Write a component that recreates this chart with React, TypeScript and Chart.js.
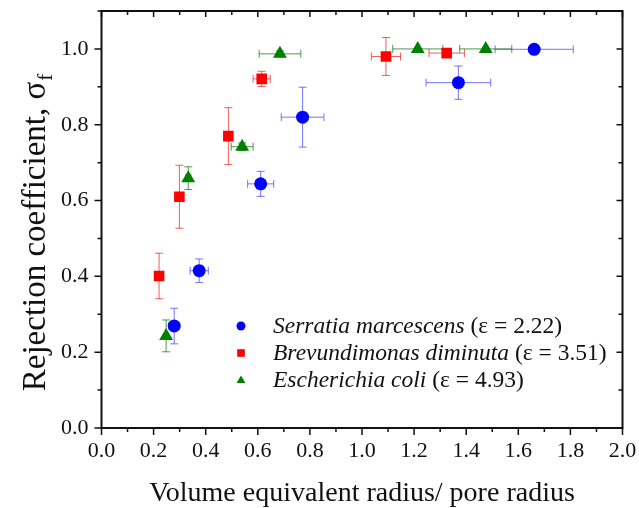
import React, { useEffect, useRef } from "react";
import { Chart, registerables } from "chart.js";

Chart.register(...registerables);

// ---------- data ----------
const seriesNames = ["Serratia marcescens", "Brevundimonas diminuta", "Escherichia coli"];
const seriesEps = ["(ε = 2.22)", "(ε = 3.51)", "(ε = 4.93)"];

const serratiaX = [0.279, 0.375, 0.611, 0.772, 1.37, 1.661];
const serratiaY = [0.269, 0.415, 0.644, 0.82, 0.911, 0.999];
const serratiaXErr = [0.021, 0.035, 0.05, 0.082, 0.124, 0.15];
const serratiaYErr = [0.047, 0.031, 0.033, 0.079, 0.044, 0.0];

const brevX = [0.221, 0.299, 0.487, 0.615, 1.092, 1.325];
const brevY = [0.401, 0.61, 0.77, 0.921, 0.98, 0.989];
const brevXErr = [0.0, 0.0, 0.0, 0.033, 0.056, 0.068];
const brevYErr = [0.06, 0.083, 0.075, 0.02, 0.05, 0.005];

const coliX = [0.248, 0.333, 0.54, 0.685, 1.214, 1.475];
const coliY = [0.243, 0.659, 0.742, 0.987, 1.0, 1.0];
const coliXErr = [0.006, 0.01, 0.042, 0.08, 0.096, 0.1];
const coliYErr = [0.042, 0.03, 0.01, 0.008, 0.0, 0.0];

const xTicks = [0, 0.2, 0.4, 0.6, 0.8, 1.0, 1.2, 1.4, 1.6, 1.8, 2.0];
const yTicks = [0, 0.2, 0.4, 0.6, 0.8, 1.0];
const xMinorStep = 0.1;
const yMinorStep = 0.1;

const xTitle = "Volume equivalent radius/ pore radius";
const yTitle = "Rejection coefficient, σ";
const yTitleSub = "f";

// ---------- styles ----------
const markerColors = ["#0000ff", "#ff0000", "#008000"];
const errColors = ["rgba(70,70,255,0.75)", "rgba(235,40,40,0.75)", "rgba(20,120,20,0.75)"];
const pointStyles = ["circle", "rect", "triangle"];
const pointRadii = [6.5, 7.5, 8];
const FONT = '"Liberation Serif", "Times New Roman", serif';

const xErrs = [serratiaXErr, brevXErr, coliXErr];
const yErrs = [serratiaYErr, brevYErr, coliYErr];

function toPoints(xs: number[], ys: number[]) {
  return xs.map((x, i) => ({ x, y: ys[i] }));
}

function drawMarker(ctx: CanvasRenderingContext2D, style: string, x: number, y: number, r: number, color: string) {
  ctx.save();
  ctx.fillStyle = color;
  ctx.beginPath();
  if (style === "circle") {
    ctx.arc(x, y, r, 0, Math.PI * 2);
  } else if (style === "rect") {
    ctx.rect(x - r, y - r, 2 * r, 2 * r);
  } else {
    const h = r * 1.8;
    ctx.moveTo(x, y - h * 0.6);
    ctx.lineTo(x + r * 1.05, y + h * 0.4);
    ctx.lineTo(x - r * 1.05, y + h * 0.4);
    ctx.closePath();
  }
  ctx.fill();
  ctx.restore();
}

const errorBarPlugin = {
  id: "errorBars",
  beforeDatasetsDraw(chart: any) {
    const ctx = chart.ctx as CanvasRenderingContext2D;
    const xs = chart.scales.x;
    const ys = chart.scales.y;
    const cap = 4;
    chart.data.datasets.forEach((ds: any, di: number) => {
      ctx.save();
      ctx.strokeStyle = errColors[di];
      ctx.lineWidth = 1;
      ds.data.forEach((p: any, i: number) => {
        const xe = xErrs[di][i];
        const ye = yErrs[di][i];
        const px = xs.getPixelForValue(p.x);
        const py = ys.getPixelForValue(p.y);
        if (xe > 0) {
          const x1 = xs.getPixelForValue(p.x - xe);
          const x2 = xs.getPixelForValue(p.x + xe);
          ctx.beginPath();
          ctx.moveTo(x1, py);
          ctx.lineTo(x2, py);
          ctx.moveTo(x1, py - cap);
          ctx.lineTo(x1, py + cap);
          ctx.moveTo(x2, py - cap);
          ctx.lineTo(x2, py + cap);
          ctx.stroke();
        }
        if (ye > 0) {
          const y1 = ys.getPixelForValue(p.y - ye);
          const y2 = ys.getPixelForValue(p.y + ye);
          ctx.beginPath();
          ctx.moveTo(px, y1);
          ctx.lineTo(px, y2);
          ctx.moveTo(px - cap, y1);
          ctx.lineTo(px + cap, y1);
          ctx.moveTo(px - cap, y2);
          ctx.lineTo(px + cap, y2);
          ctx.stroke();
        }
      });
      ctx.restore();
    });
  },
};

const framePlugin = {
  id: "frameAndDecor",
  afterDraw(chart: any) {
    const ctx = chart.ctx as CanvasRenderingContext2D;
    const xs = chart.scales.x;
    const ys = chart.scales.y;
    const { left, right, top, bottom } = chart.chartArea;
    ctx.save();
    ctx.strokeStyle = "#111";
    ctx.lineWidth = 2;
    ctx.strokeRect(left, top, right - left, bottom - top);
    ctx.lineWidth = 1.5;
    const nx = Math.round((xs.max - xs.min) / xMinorStep);
    for (let k = 0; k <= nx; k++) {
      const v = xs.min + k * xMinorStep;
      const px = xs.getPixelForValue(v);
      const major = k % 2 === 0;
      ctx.beginPath();
      ctx.moveTo(px, bottom);
      ctx.lineTo(px, bottom + (major ? 7 : 4));
      ctx.moveTo(px, top);
      ctx.lineTo(px, top + (major ? 6 : 4));
      ctx.stroke();
    }
    const ny = Math.round((ys.max - ys.min) / yMinorStep);
    for (let k = 0; k <= ny; k++) {
      const v = ys.min + k * yMinorStep;
      const py = ys.getPixelForValue(v);
      const major = k % 2 === 0;
      ctx.beginPath();
      ctx.moveTo(left, py);
      ctx.lineTo(left - (major ? 7 : 4), py);
      ctx.moveTo(right, py);
      ctx.lineTo(right - (major ? 6 : 4), py);
      ctx.stroke();
    }

    // axis titles
    ctx.fillStyle = "#111";
    ctx.font = `28px ${FONT}`;
    ctx.textAlign = "center";
    ctx.textBaseline = "alphabetic";
    ctx.fillText(xTitle, (left + right) / 2, 501);

    ctx.save();
    ctx.translate(45, 233);
    ctx.rotate(-Math.PI / 2);
    ctx.font = `33px ${FONT}`;
    const mainW = ctx.measureText(yTitle).width;
    ctx.font = `21px ${FONT}`;
    const subW = ctx.measureText(yTitleSub).width;
    const total = mainW + subW;
    ctx.textAlign = "left";
    ctx.font = `33px ${FONT}`;
    ctx.fillText(yTitle, -total / 2, 0);
    ctx.font = `21px ${FONT}`;
    ctx.fillText(yTitleSub, -total / 2 + mainW + 1, 7);
    ctx.restore();

    // legend
    const legX = 241;
    const textX = 273;
    const legY = [326, 353, 380];
    const legR = [4.5, 3.8, 4.2];
    seriesNames.forEach((name, i) => {
      drawMarker(ctx, pointStyles[i], legX, legY[i], legR[i], markerColors[i]);
      ctx.fillStyle = "#111";
      ctx.textAlign = "left";
      ctx.textBaseline = "middle";
      ctx.font = `italic 23.5px ${FONT}`;
      ctx.fillText(name, textX, legY[i] + 1);
      const w = ctx.measureText(name + " ").width;
      ctx.font = `23.5px ${FONT}`;
      ctx.fillText(seriesEps[i], textX + w, legY[i] + 1);
    });
    ctx.restore();
  },
};

export default function App() {
  const ref = useRef<HTMLCanvasElement | null>(null);

  useEffect(() => {
    if (!ref.current) return;
    const chart = new Chart(ref.current, {
      type: "scatter",
      data: {
        datasets: [
          { label: seriesNames[0], data: toPoints(serratiaX, serratiaY) },
          { label: seriesNames[1], data: toPoints(brevX, brevY) },
          { label: seriesNames[2], data: toPoints(coliX, coliY) },
        ].map((d, i) => ({
          ...d,
          pointStyle: pointStyles[i] as any,
          pointRadius: pointRadii[i],
          pointHoverRadius: pointRadii[i],
          backgroundColor: markerColors[i],
          borderColor: markerColors[i],
          borderWidth: 0,
          showLine: false,
        })),
      },
      options: {
        responsive: false,
        animation: false,
        devicePixelRatio: 1,
        layout: { padding: { top: 11, right: 16.5, left: 0, bottom: 0 } },
        plugins: {
          legend: { display: false },
          tooltip: { enabled: false },
        },
        scales: {
          x: {
            type: "linear",
            min: 0,
            max: 2.0,
            grid: { display: false, drawTicks: false },
            border: { display: false },
            ticks: {
              padding: 10,
              color: "#111",
              font: { family: FONT, size: 22 },
              callback: (v: any) => Number(v).toFixed(1),
            },
            afterBuildTicks: (s: any) => {
              s.ticks = xTicks.map((v) => ({ value: v }));
            },
            afterFit: (s: any) => {
              s.height = 80;
              s.paddingLeft = 0;
              s.paddingRight = 0;
              s.paddingTop = 0;
              s.paddingBottom = 0;
            },
          },
          y: {
            type: "linear",
            min: 0,
            max: 1.1,
            grid: { display: false, drawTicks: false },
            border: { display: false },
            ticks: {
              padding: 13,
              color: "#111",
              font: { family: FONT, size: 22 },
              callback: (v: any) => Number(v).toFixed(1),
            },
            afterBuildTicks: (s: any) => {
              s.ticks = yTicks.map((v) => ({ value: v }));
            },
            afterFit: (s: any) => {
              s.width = 101.5;
              s.paddingLeft = 0;
              s.paddingRight = 0;
              s.paddingTop = 0;
              s.paddingBottom = 0;
            },
          },
        },
      },
      plugins: [errorBarPlugin, framePlugin],
    });
    return () => chart.destroy();
  }, []);

  return (
    <div style={{ position: "fixed", left: 0, top: 0, width: 639, height: 508, background: "#fff" }}>
      <canvas ref={ref} width={639} height={508} />
    </div>
  );
}
